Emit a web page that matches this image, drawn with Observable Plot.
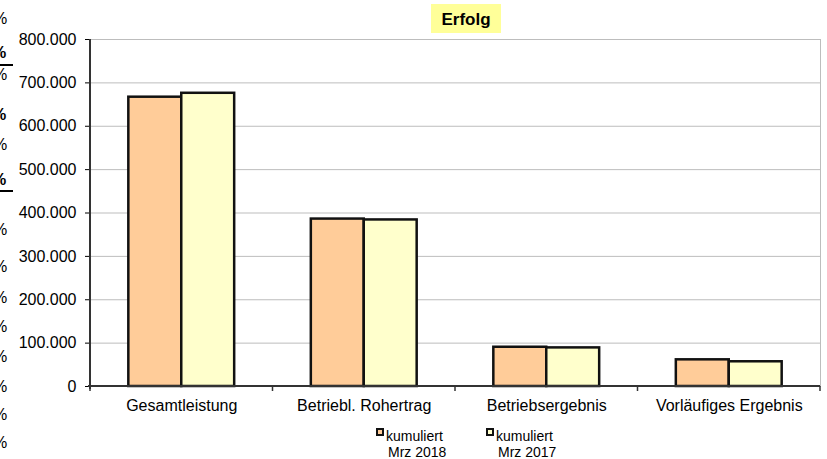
<!DOCTYPE html>
<html><head><meta charset="utf-8">
<script src="https://cdn.jsdelivr.net/npm/d3@7"></script>
<script src="https://cdn.jsdelivr.net/npm/@observablehq/plot@0.6"></script>
<style>
html,body{margin:0;padding:0;background:#fff;}
#wrap{position:relative;width:827px;height:459px;overflow:hidden;font-family:Arial,"Liberation Sans",sans-serif;color:#000;}
#wrap svg{display:block;}
.title{position:absolute;left:431px;top:4px;width:70px;height:29px;box-sizing:border-box;padding-top:2px;background:#FFFF99;font-weight:bold;font-size:17px;line-height:27px;text-align:center;}
.pct{position:absolute;left:-7px;font-size:16px;line-height:18px;}
.pct.b{font-weight:bold;left:-8px;}
.uline{position:absolute;left:0;width:13px;height:2px;background:#000;}
.legend{position:absolute;left:376px;top:428px;display:flex;font-size:14px;line-height:16px;}
.item{display:flex;align-items:flex-start;width:110px;}
.sw{width:8px;height:8px;box-sizing:border-box;border:2px solid #111;margin-top:0px;flex:none;}
.txt{padding-left:2px;}
.txt .l2{padding-left:2px;}
</style></head><body><div id="wrap"></div>
<script>
// ---- data ----
const categories = ["Gesamtleistung", "Betriebl. Rohertrag", "Betriebsergebnis", "Vorläufiges Ergebnis"];
const series2018 = [667000, 386000, 90500, 61500];
const series2017 = [676000, 384000, 89000, 57000];
const yTicks = [0, 100000, 200000, 300000, 400000, 500000, 600000, 700000, 800000];
const legendLabels = [["kumuliert", "Mrz 2018"], ["kumuliert", "Mrz 2017"]];
const titleText = "Erfolg";

// ---- styling ----
const colors = ["#FFCC99", "#FFFFCC"];
const W = 827, H = 424, ML = 90, MR = 7, MT = 39, MB = 38;
const step = (W - ML - MR) / categories.length;
const barFrac = 0.29;

const data2018 = categories.map((c, i) => ({category: c, value: series2018[i]}));
const data2017 = categories.map((c, i) => ({category: c, value: series2017[i]}));

const de = d3.formatLocale({decimal: ",", thousands: ".", grouping: [3], currency: ["", " €"]});
const fmt = de.format(",d");

function axisLines(index, scales, values, dims) {
  const {width, height, marginLeft, marginRight, marginTop, marginBottom} = dims;
  const x = scales.x, y = scales.y;
  const y0 = y ? y(0) : height - marginBottom;
  const g = d3.create("svg:g").attr("fill", "none").attr("stroke", "#333");
  g.append("line").attr("x1", marginLeft).attr("x2", marginLeft)
    .attr("y1", marginTop).attr("y2", y0 + 3).attr("stroke-width", 2);
  g.append("line").attr("x1", marginLeft - 2).attr("x2", width - marginRight)
    .attr("y1", y0).attr("y2", y0).attr("stroke-width", 2);
  const bw = x && x.bandwidth ? x.bandwidth() : (width - marginLeft - marginRight) / categories.length;
  const starts = categories.map((c, i) => x ? x(c) : marginLeft + i * bw);
  const bounds = starts.concat([starts[starts.length - 1] + bw]);
  for (const b of bounds) {
    g.append("line").attr("x1", b).attr("x2", b).attr("y1", y0).attr("y2", y0 + 5).attr("stroke-width", 1.5);
  }
  return g.node();
}

const chart = Plot.plot({
  width: W, height: H,
  marginLeft: ML, marginRight: MR, marginTop: MT, marginBottom: MB,
  style: {fontFamily: "Arial, 'Liberation Sans', sans-serif", fontSize: "16px", color: "#000", background: "transparent", overflow: "visible"},
  x: {domain: categories, padding: 0, round: false, tickSize: 0, tickPadding: 13, label: null},
  y: {domain: [0, 800000], ticks: yTicks, tickFormat: fmt, tickSize: 5, tickPadding: 9, label: null},
  marks: [
    Plot.ruleY(yTicks, {stroke: "#bdbdbd", strokeWidth: 1}),
    Plot.frame({stroke: "#bdbdbd"}),
    Plot.barY(data2018, {x: "category", y: "value", fill: colors[0], stroke: "#111", strokeWidth: 2.5,
      insetLeft: step * (0.5 - barFrac), insetRight: step * 0.5}),
    Plot.barY(data2017, {x: "category", y: "value", fill: colors[1], stroke: "#111", strokeWidth: 2.5,
      insetLeft: step * 0.5, insetRight: step * (0.5 - barFrac)}),
    axisLines
  ]
});

const wrap = document.getElementById("wrap");
wrap.appendChild(chart);

// title
const t = document.createElement("div");
t.className = "title";
t.textContent = titleText;
wrap.appendChild(t);

// clipped "%" column at the left edge (spreadsheet artefact, cut off as in the reference)
const pctRows = [[19,0],[53,1],[75,0],[115,1],[145,0],[180,1],[230,0],[267,0],[298,0],[327,0],[357,0],[387,0],[415,0],[443,0]];
for (const [cy, bold] of pctRows) {
  const s = document.createElement("div");
  s.className = "pct" + (bold ? " b" : "");
  s.style.top = (cy - 9) + "px";
  s.textContent = "%";
  wrap.appendChild(s);
}
for (const uy of [64, 190]) {
  const u = document.createElement("div");
  u.className = "uline";
  u.style.top = uy + "px";
  wrap.appendChild(u);
}

// legend
const lg = document.createElement("div");
lg.className = "legend";
legendLabels.forEach((lines, i) => {
  const it = document.createElement("div");
  it.className = "item";
  const sw = document.createElement("span");
  sw.className = "sw";
  sw.style.background = colors[i];
  const tx = document.createElement("span");
  tx.className = "txt";
  tx.innerHTML = `<div>${lines[0]}</div><div class="l2">${lines[1]}</div>`;
  it.appendChild(sw); it.appendChild(tx);
  lg.appendChild(it);
});
wrap.appendChild(lg);
</script></body></html>
